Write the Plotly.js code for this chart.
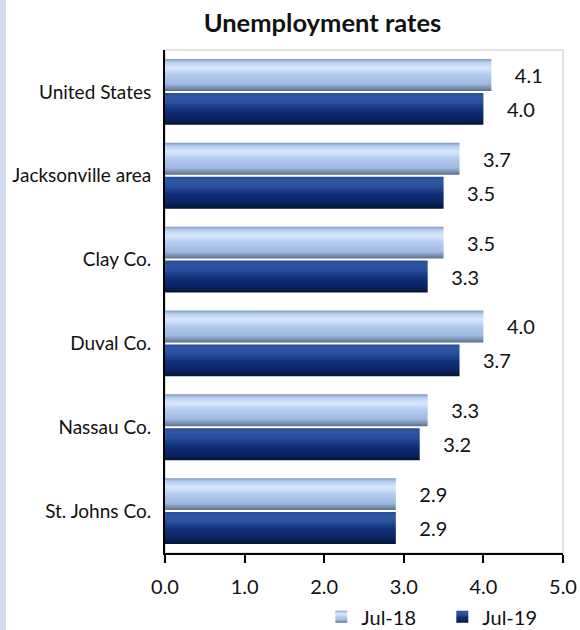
<!DOCTYPE html>
<html>
<head>
<meta charset="utf-8">
<script src="https://cdn.plot.ly/plotly-3.0.1.min.js"></script>
<style>
  html, body { margin: 0; padding: 0; background: #ffffff; }
  #wrap { position: relative; width: 580px; height: 630px; }
  #strip { position: absolute; left: 0; top: 0; width: 6px; height: 630px; background: #cfdbf0; z-index: 5; }
  #chart { position: absolute; left: 0; top: 0; width: 580px; height: 630px; }
</style>
</head>
<body>
<div id="wrap"><div id="chart"></div><div id="strip"></div></div>
<script>
const categories = ['United States', 'Jacksonville area', 'Clay Co.', 'Duval Co.', 'Nassau Co.', 'St. Johns Co.'];
const seriesNames = ['Jul-18', 'Jul-19'];
const jul18 = [4.1, 3.7, 3.5, 4.0, 3.3, 2.9];
const jul19 = [4.0, 3.5, 3.3, 3.7, 3.2, 2.9];
const xTicks = [0, 1, 2, 3, 4, 5];

const FONT = 'Lato, "Open Sans", sans-serif';
const pad = '\u00a0\u00a0\u00a0\u00a0';

function barTrace(name, vals, color) {
  return {
    type: 'bar', orientation: 'h', name: name,
    y: categories, x: vals,
    marker: { color: color, line: { width: 0 } },
    text: vals.map(v => pad + v.toFixed(1)),
    textposition: 'outside', cliponaxis: false,
    textfont: { family: FONT, size: 20, color: '#111111' },
    hoverinfo: 'skip'
  };
}

const data = [
  barTrace(seriesNames[0], jul18, '#a9c3ea'),
  barTrace(seriesNames[1], jul19, '#163575')
];

const layout = {
  width: 580, height: 630,
  margin: { l: 165, r: 17, t: 50, b: 77, autoexpand: false },
  paper_bgcolor: '#ffffff', plot_bgcolor: '#ffffff',
  font: { family: FONT, color: '#111111' },
  title: { text: '<b>Unemployment rates</b>', font: { family: FONT, size: 25.5, color: '#111111' },
           x: 0.556, xref: 'container', xanchor: 'center', y: 0.963, yref: 'container', yanchor: 'middle' },
  barmode: 'group', bargap: 0.19, bargroupgap: 0.06,
  showlegend: true,
  legend: { orientation: 'h', x: 0.554, xref: 'container', xanchor: 'left', y: 0.021, yref: 'container', yanchor: 'middle',
            bgcolor: 'rgba(0,0,0,0)',
            font: { family: FONT, size: 20, color: '#111111' }, traceorder: 'normal',
            entrywidth: 76, entrywidthmode: 'pixels' },
  xaxis: { range: [0, 5], tickvals: xTicks, ticktext: xTicks.map(v => v.toFixed(1)),
           showgrid: false, zeroline: false, showline: true, linecolor: '#000000', linewidth: 2,
           ticks: 'outside', ticklen: 8, tickwidth: 2, tickcolor: '#000000',
           tickfont: { family: FONT, size: 20, color: '#111111' }, ticklabelstandoff: 7, fixedrange: true },
  yaxis: { autorange: 'reversed', showgrid: false, zeroline: false, showline: true, linecolor: '#000000', linewidth: 2,
           ticks: '', tickfont: { family: FONT, size: 19, color: '#111111' }, ticklabelstandoff: 8, fixedrange: true },
  shapes: [{ type: 'rect', xref: 'paper', yref: 'paper', x0: 0, x1: 1, y0: 0, y1: 1,
             line: { color: '#d9d9d9', width: 1.5 }, layer: 'below' }]
};

function addGradients(gd) {
  const svg = gd.querySelector('svg.main-svg');
  if (!svg) return;
  let defs = svg.querySelector('defs');
  const NS = 'http://www.w3.org/2000/svg';
  if (!defs) { defs = document.createElementNS(NS, 'defs'); svg.insertBefore(defs, svg.firstChild); }
  const grads = {
    gLight: [[0, '#7f97bc'], [0.1, '#b6cdf0'], [0.28, '#d8e7fc'], [0.5, '#b3cbef'], [0.78, '#9fb9e2'], [0.9, '#7c92b4'], [1, '#5c6e8a']],
    gDark: [[0, '#294c93'], [0.12, '#2f57a6'], [0.3, '#2a4f9c'], [0.55, '#0f2f78'], [0.8, '#0b2563'], [0.92, '#071b4a'], [1, '#04122f']]
  };
  Object.keys(grads).forEach(id => {
    const lg = document.createElementNS(NS, 'linearGradient');
    lg.setAttribute('id', id);
    lg.setAttribute('x1', '0'); lg.setAttribute('y1', '0'); lg.setAttribute('x2', '0'); lg.setAttribute('y2', '1');
    grads[id].forEach(s => {
      const st = document.createElementNS(NS, 'stop');
      st.setAttribute('offset', s[0]); st.setAttribute('stop-color', s[1]);
      lg.appendChild(st);
    });
    defs.appendChild(lg);
  });
  const ids = ['gLight', 'gDark'];
  gd.querySelectorAll('.barlayer .trace').forEach((tr, i) => {
    tr.querySelectorAll('.point path').forEach(p => { p.style.fill = 'url(#' + ids[i] + ')'; });
  });
  gd.querySelectorAll('.legend .traces').forEach((tr, i) => {
    tr.querySelectorAll('.legendpoints path').forEach(p => { p.style.fill = 'url(#' + ids[i] + ')'; });
  });
}

Plotly.newPlot('chart', data, layout, { displayModeBar: false, staticPlot: true }).then(addGradients);
</script>
</body>
</html>
